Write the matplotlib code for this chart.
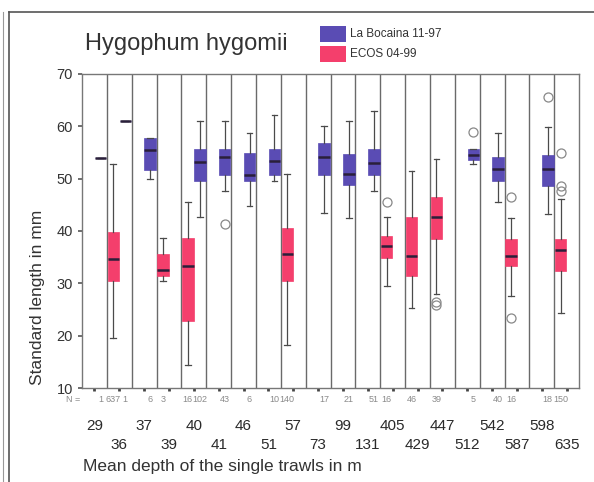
import numpy as np
import matplotlib
matplotlib.use('Agg')
import matplotlib.pyplot as plt
from matplotlib.transforms import blended_transform_factory

plt.rcParams['font.family'] = ['Liberation Sans', 'DejaVu Sans']

depths = ['29', '36', '37', '39', '40', '41', '46', '51', '57', '73',
          '99', '131', '405', '429', '447', '512', '542', '587', '598', '635']

# La Bocaina 11-97
lb_cat = [0, 1, 2, 4, 5, 6, 7, 9, 10, 11, 15, 16, 18]
lb_lo  = [54, 61, 49.9, 42.7, 47.7, 44.8, 49.6, 43.5, 42.4, 47.7, 52.7, 45.6, 43.3]
lb_q1  = [54, 61, 51.7, 49.5, 50.6, 49.6, 50.6, 50.6, 48.7, 50.6, 53.5, 49.5, 48.5]
lb_med = [54, 61, 55.5, 53.1, 54.1, 50.6, 53.3, 54.1, 50.9, 52.9, 54.4, 51.9, 51.9]
lb_q3  = [54, 61, 57.8, 55.7, 55.7, 54.8, 55.7, 56.7, 54.6, 55.7, 55.7, 54.1, 54.4]
lb_hi  = [54, 61, 57.8, 61.0, 61.0, 58.7, 62.1, 60.0, 61.0, 62.9, 55.7, 58.7, 59.8]
lb_n   = [1, 1, 6, 102, 43, 6, 10, 17, 21, 51, 5, 40, 18]
lb_out = [[], [], [], [], [41.4], [], [], [], [], [], [58.9], [], [65.5]]

# ECOS 04-99
ec_cat = [1, 3, 4, 8, 12, 13, 14, 17, 19]
ec_lo  = [19.5, 30.5, 14.4, 18.3, 29.4, 25.3, 28.0, 27.5, 24.3]
ec_q1  = [30.5, 31.3, 22.7, 30.4, 34.9, 31.3, 38.4, 33.3, 32.3]
ec_med = [34.6, 32.6, 33.3, 35.6, 37.1, 35.2, 42.7, 35.2, 36.3]
ec_q3  = [39.7, 35.5, 38.6, 40.5, 39.0, 42.6, 46.5, 38.4, 38.4]
ec_hi  = [52.8, 38.7, 45.6, 50.8, 42.6, 51.5, 53.8, 42.4, 46.0]
ec_n   = [637, 3, 16, 140, 16, 46, 39, 16, 150]
ec_out = [[], [], [], [], [45.6], [], [26.5, 25.8], [46.5, 23.3], [54.8, 48.5, 47.7]]

lb_color = '#5a4cb4'
ec_color = '#f43f6c'

fig = plt.figure(figsize=(5.94, 4.82), dpi=100)
ax = fig.add_axes([0.138, 0.195, 0.837, 0.652])

def draw(cats, lo, q1, med, q3, hi, out, off, color):
    stats = []
    for i in range(len(cats)):
        stats.append(dict(whislo=lo[i], q1=q1[i], med=med[i], q3=q3[i],
                          whishi=hi[i], fliers=out[i]))
    pos = np.array(cats) + off
    ax.bxp(stats, positions=pos, widths=0.46, patch_artist=True,
           showfliers=True, manage_ticks=False,
           boxprops=dict(facecolor=color, edgecolor=color, linewidth=0.5),
           medianprops=dict(color='#2a1f3a', linewidth=1.8),
           whiskerprops=dict(color='#4a4a4a', linewidth=0.9),
           capprops=dict(color='#4a4a4a', linewidth=0.9),
           flierprops=dict(marker='o', markerfacecolor='none',
                           markeredgecolor='#888888', markersize=6.5,
                           markeredgewidth=0.9))
    return pos

lb_pos = draw(lb_cat, lb_lo, lb_q1, lb_med, lb_q3, lb_hi, lb_out, 0.24, lb_color)
ec_pos = draw(ec_cat, ec_lo, ec_q1, ec_med, ec_q3, ec_hi, ec_out, -0.24, ec_color)

# vertical separators
for k in range(1, len(depths)):
    ax.axvline(k - 0.5, color='#6a6a6a', linewidth=1.0, zorder=0)

ax.set_xlim(-0.5, len(depths) - 0.5)
ax.set_ylim(10, 70)
ax.set_yticks([10, 20, 30, 40, 50, 60, 70])
ax.tick_params(axis='y', labelsize=10.5, labelcolor='#333333', color='#555555',
               length=3, width=1.2)
ax.set_xticks(range(len(depths)))
ax.tick_params(axis='x', labelbottom=False, length=2.5, width=2, color='#444444')
for s in ax.spines.values():
    s.set_color('#777777')
    s.set_linewidth(1.0)

tr = blended_transform_factory(ax.transData, ax.transAxes)
# N labels
ax.text(-0.55, -0.038, 'N =', transform=tr, ha='right', va='center',
        fontsize=6.5, color='#8a8a8a')
allpos = list(lb_pos) + list(ec_pos)
alln = lb_n + ec_n
for p, n in zip(allpos, alln):
    ax.text(p, -0.038, str(n), transform=tr, ha='center', va='center',
            fontsize=6.5, color='#8a8a8a')

# depth labels in two rows
for k, d in enumerate(depths):
    yy = -0.122 if k % 2 == 0 else -0.18
    ax.text(k, yy, d, transform=tr, ha='center', va='center',
            fontsize=11, color='#2a2a2a')

fig.text(38 / 594, 1 - 297 / 482, 'Standard length in mm', rotation=90,
         ha='center', va='center', fontsize=12.5, color='#333333')
fig.text(83 / 594, 1 - 466 / 482, 'Mean depth of the single trawls in m',
         ha='left', va='center', fontsize=12.5, color='#333333')
fig.text(186 / 594, 1 - 44 / 482, 'Hygophum hygomii', ha='center', va='center',
         fontsize=17, color='#333333')

# legend patches
fig.patches.append(plt.Rectangle((320 / 594, 1 - 42 / 482), 26 / 594, 16 / 482,
                                 transform=fig.transFigure, facecolor=lb_color,
                                 edgecolor='none'))
fig.patches.append(plt.Rectangle((320 / 594, 1 - 62 / 482), 26 / 594, 16 / 482,
                                 transform=fig.transFigure, facecolor=ec_color,
                                 edgecolor='none'))
fig.text(350 / 594, 1 - 34 / 482, 'La Bocaina 11-97', ha='left', va='center',
         fontsize=8.5, color='#333333')
fig.text(350 / 594, 1 - 54 / 482, 'ECOS 04-99', ha='left', va='center',
         fontsize=8.5, color='#333333')

# outer frame lines
fig.add_artist(plt.Line2D([9 / 594, 1], [1 - 12 / 482, 1 - 12 / 482],
                          color='#555555', linewidth=1.2))
fig.add_artist(plt.Line2D([9 / 594, 9 / 594], [0, 1 - 12 / 482],
                          color='#555555', linewidth=1.2))
fig.add_artist(plt.Line2D([3 / 594, 3 / 594], [0, 1 - 12 / 482],
                          color='#999999', linewidth=0.8))

fig.savefig('out.png', dpi=100)
